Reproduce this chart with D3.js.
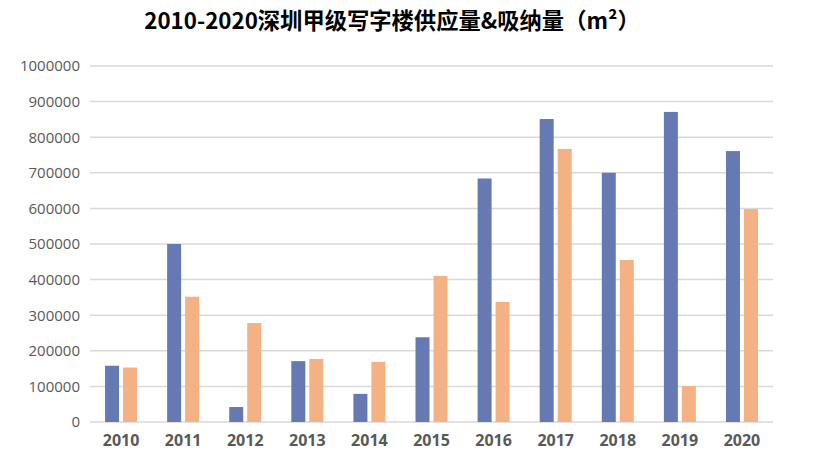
<!DOCTYPE html>
<html>
<head>
<meta charset="utf-8">
<script src="https://cdn.jsdelivr.net/npm/d3@7"></script>
<style>
  body { margin: 0; background: #fff; }
  text { font-family: "Noto Sans CJK SC", "Open Sans", sans-serif; }
</style>
</head>
<body>
<div id="chart"></div>
<script>
// data
var years = ["2010", "2011", "2012", "2013", "2014", "2015", "2016", "2017", "2018", "2019", "2020"];
var supply = [158000, 500000, 42000, 171000, 79000, 238000, 684000, 851000, 700000, 871000, 761000];
var absorb = [153000, 352000, 278000, 177000, 169000, 410000, 337000, 767000, 455000, 101000, 598000];
var yTicks = [0, 100000, 200000, 300000, 400000, 500000, 600000, 700000, 800000, 900000, 1000000];

var svgWidth = 819;
var svgHeight = 474;

var margin = { top: 66, right: 46, bottom: 52, left: 90 };
var width = svgWidth - margin.left - margin.right;
var height = svgHeight - margin.top - margin.bottom;

var svg = d3.select("#chart")
  .append("svg")
  .attr("width", svgWidth)
  .attr("height", svgHeight);

svg.append("text")
  .attr("x", 392)
  .attr("y", 29)
  .attr("text-anchor", "middle")
  .attr("font-size", "22.3px")
  .attr("font-weight", "bold")
  .attr("fill", "#000")
  .text("2010-2020深圳甲级写字楼供应量&吸纳量（m²）");

var chartGroup = svg.append("g")
  .attr("transform", `translate(${margin.left}, ${margin.top})`);

var xScale = d3.scaleBand()
  .domain(years)
  .range([0, width]);

var yScale = d3.scaleLinear()
  .domain([0, 1000000])
  .range([height, 0]);

// gridlines
chartGroup.selectAll(".grid")
  .data(yTicks)
  .enter()
  .append("line")
  .attr("x1", 0)
  .attr("x2", width)
  .attr("y1", d => yScale(d))
  .attr("y2", d => yScale(d))
  .attr("stroke", "#d9d9d9")
  .attr("stroke-width", 1.5);

var yAxis = d3.axisLeft(yScale).tickValues(yTicks).tickSize(0).tickPadding(10).tickFormat(d3.format("d"));
chartGroup.append("g")
  .call(yAxis)
  .call(g => g.select(".domain").remove())
  .selectAll("text")
  .attr("fill", "#595959")
  .attr("font-size", "15px")
  .style("font-family", "'Open Sans', sans-serif");

var xAxis = d3.axisBottom(xScale).tickSize(0).tickPadding(13);
chartGroup.append("g")
  .attr("transform", `translate(0, ${height})`)
  .call(xAxis)
  .call(g => g.select(".domain").remove())
  .selectAll("text")
  .attr("fill", "#595959")
  .attr("font-size", "16px")
  .attr("font-weight", "bold")
  .style("font-family", "'Open Sans', sans-serif");

var barW = 14;
var gap = 4;

chartGroup.selectAll(".supply")
  .data(supply)
  .enter()
  .append("rect")
  .attr("x", (d, i) => xScale(years[i]) + xScale.bandwidth() / 2 - gap / 2 - barW)
  .attr("y", d => yScale(d))
  .attr("width", barW)
  .attr("height", d => height - yScale(d))
  .attr("fill", "#6779b3");

chartGroup.selectAll(".absorb")
  .data(absorb)
  .enter()
  .append("rect")
  .attr("x", (d, i) => xScale(years[i]) + xScale.bandwidth() / 2 + gap / 2)
  .attr("y", d => yScale(d))
  .attr("width", barW)
  .attr("height", d => height - yScale(d))
  .attr("fill", "#f4b183");
</script>
</body>
</html>
